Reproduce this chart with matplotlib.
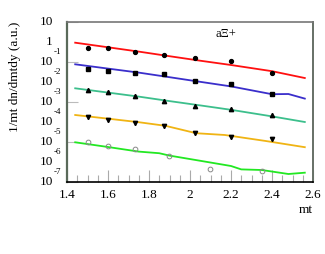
import matplotlib.pyplot as plt
import numpy as np

plt.rcParams['font.family'] = ['Liberation Serif', 'DejaVu Serif']

# model curves (mt, 1/mt dn/dmtdy)
red_mt = [1.44, 1.6, 1.75, 1.9, 2.05, 2.2, 2.4, 2.56]
red_val = [0.923, 0.545, 0.331, 0.195, 0.116, 0.0708, 0.0347, 0.0158]
blue_mt = [1.44, 1.6, 1.75, 1.9, 2.05, 2.2, 2.4, 2.48, 2.56]
blue_val = [0.0767, 0.0468, 0.0295, 0.0174, 0.0102, 0.00603, 0.00245, 0.00251, 0.00148]
teal_mt = [1.44, 1.6, 1.75, 1.9, 2.05, 2.2, 2.4, 2.56]
teal_val = [4.84e-3, 2.96e-3, 1.86e-3, 1.11e-3, 6.76e-4, 4.07e-4, 1.91e-4, 1.0e-4]
orange_mt = [1.44, 1.6, 1.75, 1.88, 2.03, 2.17, 2.37, 2.56]
orange_val = [2.24e-4, 1.47e-4, 9.77e-5, 6.46e-5, 2.75e-5, 2.24e-5, 1.12e-5, 5.5e-6]
green_mt = [1.44, 1.6, 1.75, 1.85, 1.9, 2.05, 2.2, 2.25, 2.35, 2.48, 2.56]
green_val = [9.66e-6, 5.62e-6, 3.31e-6, 2.75e-6, 2.09e-6, 1.15e-6, 6.31e-7, 4.27e-7, 3.98e-7, 2.51e-7, 2.92e-7]

# measured points
pts_mt = [1.5, 1.6, 1.73, 1.875, 2.025, 2.2, 2.4]
red_pts = [0.519, 0.519, 0.327, 0.224, 0.153, 0.112, 0.0292]
blue_pts = [0.0432, 0.0367, 0.0292, 0.0243, 0.0116, 0.00794, 0.00243]
teal_pts = [3.98e-3, 3.27e-3, 2.0e-3, 1.16e-3, 6.31e-4, 4.47e-4, 2.24e-4]
orange_pts = [1.84e-4, 1.22e-4, 8.61e-5, 6.53e-5, 2.72e-5, 1.84e-5, 1.36e-5]
green_pts_mt = [1.5, 1.6, 1.73, 1.9, 2.1, 2.35]
green_pts = [9.66e-6, 6.1e-6, 4.62e-6, 2.07e-6, 4.47e-7, 3.55e-7]

fig = plt.figure(figsize=(3.25, 2.54), dpi=100)
ax = fig.add_axes([67 / 325, 1 - 182 / 254, 246 / 325, 160 / 254])

ax.plot(red_mt, red_val, color='#ff1010', lw=1.3)
ax.plot(blue_mt, blue_val, color='#3a2ecb', lw=1.3)
ax.plot(teal_mt, teal_val, color='#3cbf8c', lw=1.3)
ax.plot(orange_mt, orange_val, color='#f0b414', lw=1.3)
ax.plot(green_mt, green_val, color='#22e822', lw=1.3)

ax.plot(pts_mt, red_pts, 'o', color='black', ms=2.8)
ax.plot(pts_mt, blue_pts, 's', color='black', ms=3.1)
ax.plot(pts_mt, teal_pts, '^', color='black', ms=3.1)
ax.plot(pts_mt, orange_pts, 'v', color='black', ms=3.1)
ax.plot(green_pts_mt, green_pts, 'o', mfc='none', mec='#888888', mew=0.7, ms=3.4)

ax.set_yscale('log')
ax.set_xlim(1.4, 2.6)
ax.set_ylim(1e-7, 10)

ax.set_xticks(np.arange(1.4, 2.61, 0.2))
ax.set_xticks(np.arange(1.4, 2.61, 0.05), minor=True)
ax.set_xticklabels(['1.4', '1.6', '1.8', '2', '2.2', '2.4', '2.6'])
ax.tick_params(axis='x', which='major', direction='in', length=9, width=0.8,
               color='#aaaaaa', labelsize=9.5, pad=5)
ax.tick_params(axis='x', which='minor', direction='in', length=5, width=0.8,
               color='#aaaaaa')
ax.tick_params(axis='y', which='both', direction='in', color='#bbbbbb', width=0.8,
               labelleft=False)
ax.tick_params(axis='y', which='major', length=8)
ax.tick_params(axis='y', which='minor', length=5)

ax.spines['left'].set_color('#5a6a5a')
ax.spines['left'].set_linewidth(1.6)
ax.spines['right'].set_color('#667066')
ax.spines['right'].set_linewidth(1.4)
ax.spines['top'].set_color('#777777')
ax.spines['top'].set_linewidth(1.2)
ax.spines['bottom'].set_color('black')
ax.spines['bottom'].set_linewidth(1.2)

# ROOT-style decade labels
for e in range(-7, 2):
    y = 1 - (182 - (e + 7) * 20) / 254
    if e == 0:
        fig.text(53 / 325, y, '1', ha='right', va='center', fontsize=9.5)
    else:
        fig.text(53 / 325, y, '10', ha='right', va='center', fontsize=9.5)
        if e < 0:
            fig.text(54 / 325, y + 10 / 254, str(e), ha='left', va='center',
                     fontsize=6.5)

fig.text(15 / 325, 1 - 22 / 254, '1/mt dn/dmtdy (a.u.)', rotation=90,
         ha='center', va='top', fontsize=9.5)
fig.text(313 / 325, 1 - 210 / 254, 'mt', ha='right', va='center', fontsize=9.5)
fig.text(216 / 325, 1 - 34 / 254, 'a\u039e+', ha='left', va='center', fontsize=9)

plt.savefig('out.png', dpi=100)
plt.close()
